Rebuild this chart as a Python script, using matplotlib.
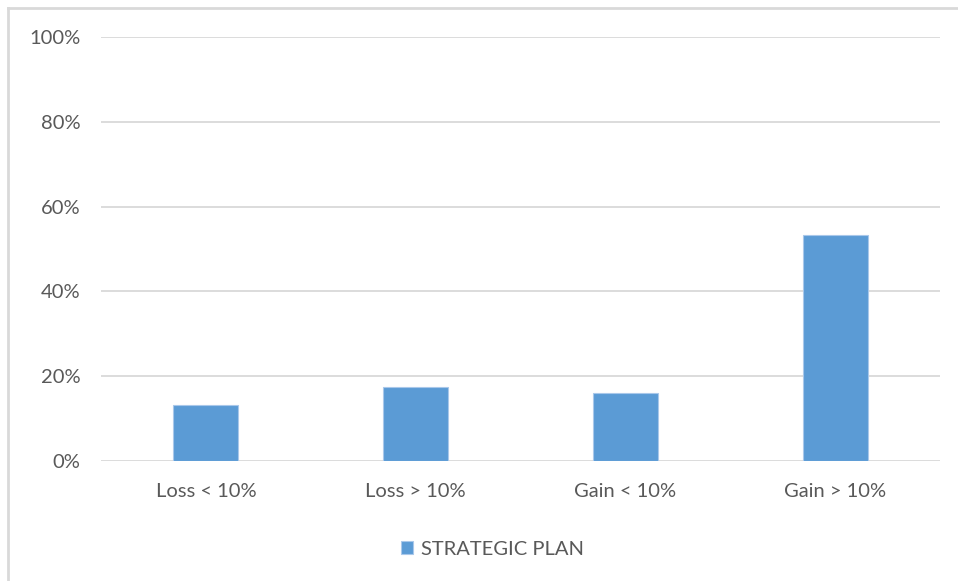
import matplotlib.pyplot as plt
from matplotlib.lines import Line2D
from matplotlib.ticker import PercentFormatter

categories = ['Loss < 10%', 'Loss > 10%', 'Gain < 10%', 'Gain > 10%']
strategic_plan = [13.2, 17.4, 16.0, 53.3]
series_name = 'STRATEGIC PLAN'

plt.rcParams['font.family'] = ['Lato', 'DejaVu Sans']

fig = plt.figure(figsize=(9.58, 5.81), dpi=100)
ax = fig.add_axes([101 / 958, 1 - 461 / 581, 839 / 958, 424 / 581])

x = range(len(categories))
ax.bar(x, strategic_plan, width=0.31, color='#5b9bd5', edgecolor='#a9c8ea',
       linewidth=0.8, zorder=3, label=series_name)

ax.set_xlim(-0.5, len(categories) - 0.5)
ax.set_ylim(0, 100)
ax.set_yticks(range(0, 101, 20))
ax.yaxis.set_major_formatter(PercentFormatter(decimals=0))
ax.set_xticks(list(x))
ax.set_xticklabels(categories)

ax.grid(axis='y', color='#d9d9d9', linewidth=1.3, zorder=0)
for s in ax.spines.values():
    s.set_visible(False)
ax.tick_params(length=0, labelsize=14.5, colors='#595959')
ax.tick_params(axis='y', pad=15)
ax.tick_params(axis='x', pad=16)

ax.legend(loc='upper center', bbox_to_anchor=(0.467, -0.145), frameon=False,
          fontsize=14.5, labelcolor='#595959', handlelength=0.6, handleheight=0.6,
          handletextpad=0.4)

# outer chart border (cropped on right and bottom)
fig.add_artist(Line2D([8 / 958, 1], [1 - 8 / 581, 1 - 8 / 581],
                      transform=fig.transFigure, color='#d9d9d9', linewidth=2))
fig.add_artist(Line2D([8 / 958, 8 / 958], [0, 1 - 8 / 581],
                      transform=fig.transFigure, color='#d9d9d9', linewidth=2))

fig.savefig('out.png', dpi=100)
